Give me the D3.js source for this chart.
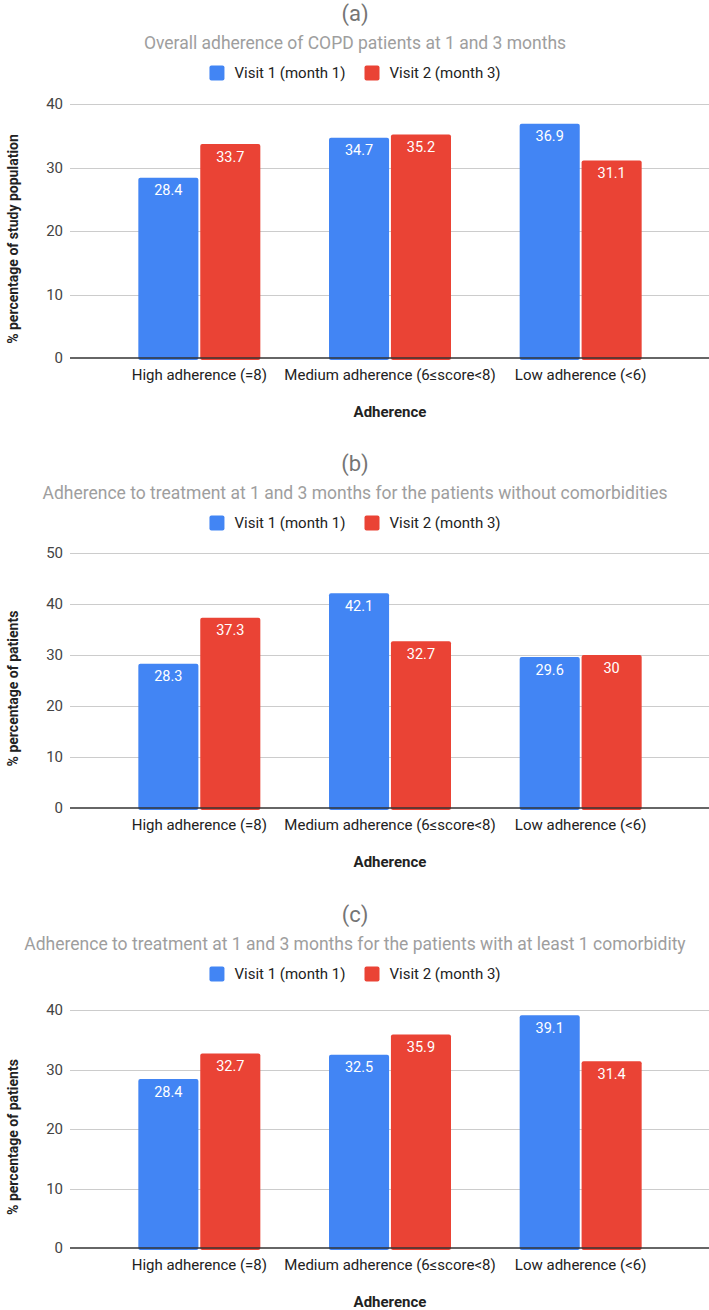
<!DOCTYPE html>
<html lang="en">
  <head>
    <meta charset="utf-8">
    <title>Adherence of COPD patients</title>
    <script src="https://d3js.org/d3.v7.min.js"></script>
    <style>
      body { margin: 0; background: #fff; }
      svg text { font-family: Roboto, "Liberation Sans", Arial, sans-serif; }
      .grid line { stroke: #cccccc; stroke-width: 1; shape-rendering: crispEdges; }
      .tick-label { font-size: 15px; fill: #444; }
      .cat-label { font-size: 15px; fill: #222; }
      .val-label { font-size: 14.5px; fill: #fff; }
      .axis-title { font-size: 14px; font-weight: bold; fill: #222; }
    </style>
  </head>
  <body>
    <script>
      // data
      var categories = ["High adherence (=8)", "Medium adherence (6\u2264score<8)", "Low adherence (<6)"];
      var seriesNames = ["Visit 1 (month 1)", "Visit 2 (month 3)"];
      var colors = ["#4285F4", "#EA4335"];

      var visit1A = [28.4, 34.7, 36.9];
      var visit2A = [33.7, 35.2, 31.1];
      var visit1B = [28.3, 42.1, 29.6];
      var visit2B = [37.3, 32.7, 30];
      var visit1C = [28.4, 32.5, 39.1];
      var visit2C = [32.7, 35.9, 31.4];

      var ticksA = [0, 10, 20, 30, 40];
      var ticksB = [0, 10, 20, 30, 40, 50];
      var ticksC = [0, 10, 20, 30, 40];

      var letters = ["(a)", "(b)", "(c)"];
      var subtitles = [
        "Overall adherence of COPD patients at 1 and 3 months",
        "Adherence to treatment at 1 and 3 months for the patients without comorbidities",
        "Adherence to treatment at 1 and 3 months for the patients with at least 1 comorbidity"
      ];
      var yTitles = ["% percentage of study population", "% percentage of patients", "% percentage of patients"];
      var xTitle = "Adherence";

      var w = 709, h = 1310;
      var centerX = 355;
      var gridLeft = 70, gridRight = 709;

      // vertical layout of each panel
      var panels = [
        { top: 0,   plotTop: 104,  plotBottom: 358,  v1: visit1A, v2: visit2A, ticks: ticksA },
        { top: 450, plotTop: 553,  plotBottom: 808,  v1: visit1B, v2: visit2B, ticks: ticksB },
        { top: 901, plotTop: 1010, plotBottom: 1248, v1: visit1C, v2: visit2C, ticks: ticksC }
      ];

      var svg = d3.select("body").append("svg")
        .attr("width", w)
        .attr("height", h);

      var x0 = d3.scaleBand().domain(categories).range([104, 676]);
      var groupW = 122;
      var x1 = d3.scaleBand().domain([0, 1]).range([0, groupW]).paddingInner(0.03);

      panels.forEach(function(p, pi) {
        var g = svg.append("g");
        var y = d3.scaleLinear()
          .domain([0, d3.max(p.ticks)])
          .range([p.plotBottom, p.plotTop]);

        // letter + subtitle
        g.append("text")
          .attr("x", centerX).attr("y", p.top + 13)
          .attr("text-anchor", "middle").attr("dominant-baseline", "central")
          .style("font-size", "22px").style("fill", "#757575")
          .text(letters[pi]);
        g.append("text")
          .attr("x", centerX).attr("y", p.top + 43)
          .attr("text-anchor", "middle").attr("dominant-baseline", "central")
          .style("font-size", "17.5px").style("fill", "#9e9e9e")
          .text(subtitles[pi]);

        // legend
        var leg = g.append("g");
        var xPos = 0;
        seriesNames.forEach(function(name, si) {
          leg.append("rect")
            .attr("x", xPos).attr("y", -7.5)
            .attr("width", 15).attr("height", 15)
            .attr("rx", 2)
            .attr("fill", colors[si]);
          var t = leg.append("text")
            .attr("x", xPos + 25).attr("y", 0)
            .attr("dominant-baseline", "central")
            .style("font-size", "15px").style("fill", "#222")
            .text(name);
          xPos += 25 + t.node().getComputedTextLength() + 19;
        });
        var legW = xPos - 19;
        leg.attr("transform", "translate(" + (centerX - legW / 2) + "," + (p.top + 73) + ")");

        // gridlines
        var grid = g.append("g").attr("class", "grid");
        grid.selectAll("line")
          .data(p.ticks.filter(function(d) { return d > 0; }))
          .enter().append("line")
          .attr("x1", gridLeft).attr("x2", gridRight)
          .attr("y1", function(d) { return Math.round(y(d)) + 0.5; })
          .attr("y2", function(d) { return Math.round(y(d)) + 0.5; });

        // y axis with labels only
        var yAxis = d3.axisLeft(y).tickValues(p.ticks).tickSize(0).tickPadding(0);
        var ya = g.append("g")
          .attr("transform", "translate(63,0)")
          .call(yAxis);
        ya.select(".domain").remove();
        ya.selectAll("text").attr("class", "tick-label");

        // bars
        var rows = categories.map(function(c, i) { return { cat: c, vals: [p.v1[i], p.v2[i]] }; });
        var groups = g.selectAll(".grp")
          .data(rows)
          .enter().append("g")
          .attr("class", "grp")
          .attr("transform", function(d) {
            return "translate(" + (x0(d.cat) + x0.bandwidth() / 2 - groupW / 2) + ",0)";
          });

        groups.selectAll("rect")
          .data(function(d) { return d.vals; })
          .enter().append("rect")
          .attr("x", function(d, i) { return x1(i); })
          .attr("y", function(d) { return y(d); })
          .attr("width", x1.bandwidth())
          .attr("height", function(d) { return p.plotBottom - y(d) + 2; })
          .attr("rx", 2)
          .attr("fill", function(d, i) { return colors[i]; });

        groups.selectAll(".val-label")
          .data(function(d) { return d.vals; })
          .enter().append("text")
          .attr("class", "val-label")
          .attr("x", function(d, i) { return x1(i) + x1.bandwidth() / 2; })
          .attr("y", function(d) { return y(d) + 13; })
          .attr("text-anchor", "middle")
          .attr("dominant-baseline", "central")
          .text(function(d) { return String(d); });

        // baseline
        g.append("line")
          .attr("x1", gridLeft).attr("x2", gridRight)
          .attr("y1", p.plotBottom).attr("y2", p.plotBottom)
          .attr("stroke", "#333").attr("stroke-width", 1.5);

        // category labels
        var xAxis = d3.axisBottom(x0).tickSize(0).tickPadding(0);
        var xa = g.append("g")
          .attr("transform", "translate(0," + p.plotBottom + ")")
          .call(xAxis);
        xa.select(".domain").remove();
        xa.selectAll("text")
          .attr("class", "cat-label")
          .attr("dy", null)
          .attr("y", 17)
          .attr("dominant-baseline", "central");

        // axis titles
        g.append("text")
          .attr("class", "axis-title")
          .attr("x", 390).attr("y", p.plotBottom + 54)
          .attr("text-anchor", "middle").attr("dominant-baseline", "central")
          .style("font-size", "15px")
          .text(xTitle);
        g.append("text")
          .attr("class", "axis-title")
          .attr("transform", "translate(13," + ((p.plotTop + p.plotBottom) / 2 + 8) + ") rotate(-90)")
          .attr("text-anchor", "middle").attr("dominant-baseline", "central")
          .text(yTitles[pi]);
      });
    </script>
  </body>
</html>
